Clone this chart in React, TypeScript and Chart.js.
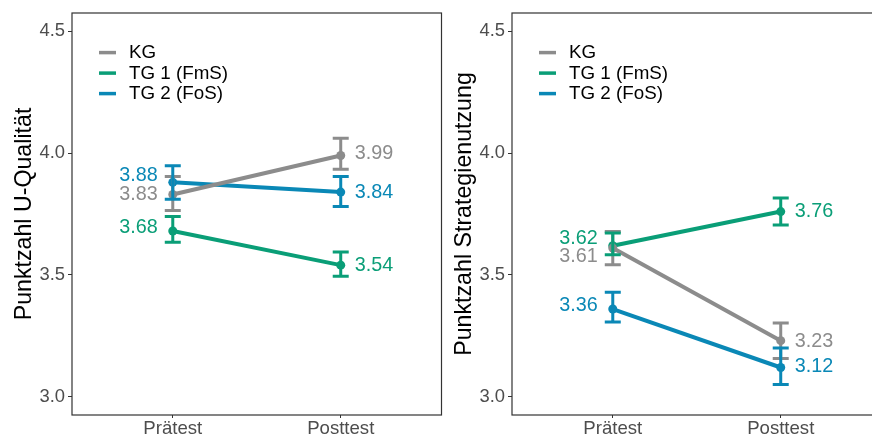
import React, { useEffect, useRef } from "react";
import { Chart, registerables } from "chart.js";
Chart.register(...registerables);

// ---------- data ----------
const categories = ["Prätest", "Posttest"];
const groups = ["KG", "TG 1 (FmS)", "TG 2 (FoS)"];
const yTickValues = [3.0, 3.5, 4.0, 4.5];

// Panel 1: Punktzahl U-Qualität
const uqKG = [3.83, 3.99];
const uqTG1 = [3.68, 3.54];
const uqTG2 = [3.88, 3.84];
const uqKGLow = [3.764, 3.934];
const uqKGHigh = [3.904, 4.061];
const uqTG1Low = [3.634, 3.494];
const uqTG1High = [3.74, 3.594];
const uqTG2Low = [3.811, 3.781];
const uqTG2High = [3.948, 3.904];

// Panel 2: Punktzahl Strategienutzung
const suKG = [3.61, 3.23];
const suTG1 = [3.62, 3.76];
const suTG2 = [3.36, 3.12];
const suKGLow = [3.542, 3.157];
const suKGHigh = [3.678, 3.303];
const suTG1Low = [3.583, 3.705];
const suTG1High = [3.672, 3.816];
const suTG2Low = [3.307, 3.05];
const suTG2High = [3.429, 3.2];

// ---------- style ----------
const groupColors = ["#8C8C8C", "#0A9E77", "#0A88B6"];
const FONT = "'Liberation Sans', Arial, Helvetica, sans-serif";
const Y_MIN = 2.925;
const Y_MAX = 4.575;

type Panel = {
  title: string;
  means: number[][];
  lows: number[][];
  highs: number[][];
  nudges: number[][]; // label pixel nudges (ggrepel-like)
};

const panels: Panel[] = [
  {
    title: "Punktzahl U-Qualität",
    means: [uqKG, uqTG1, uqTG2],
    lows: [uqKGLow, uqTG1Low, uqTG2Low],
    highs: [uqKGHigh, uqTG1High, uqTG2High],
    nudges: [
      [0, -1.5],
      [-3.5, 0],
      [-7, 0],
    ],
  },
  {
    title: "Punktzahl Strategienutzung",
    means: [suKG, suTG1, suTG2],
    lows: [suKGLow, suTG1Low, suTG2Low],
    highs: [suKGHigh, suTG1High, suTG2High],
    nudges: [
      [8, 1],
      [-6.7, 0],
      [-3.5, -1.3],
    ],
  },
];

function makeConfig(panel: Panel): any {
  const decor = {
    id: "decor",
    beforeDatasetsDraw(chart: any) {
      const { ctx, chartArea: a } = chart;
      ctx.save();
      ctx.strokeStyle = "#333333";
      ctx.lineWidth = 1.2;
      ctx.strokeRect(a.left, a.top, a.right - a.left, a.bottom - a.top);
      ctx.restore();
    },
    afterDatasetsDraw(chart: any) {
      const { ctx, chartArea: a } = chart;
      const xs = chart.scales.x;
      const ys = chart.scales.y;
      ctx.save();
      // error bars
      groups.forEach((_, g) => {
        ctx.strokeStyle = groupColors[g];
        ctx.lineWidth = 3;
        ctx.lineCap = "butt";
        categories.forEach((__, c) => {
          const px = xs.getPixelForValue(c + 1);
          const yl = ys.getPixelForValue(panel.lows[g][c]);
          const yh = ys.getPixelForValue(panel.highs[g][c]);
          ctx.beginPath();
          ctx.moveTo(px, yl);
          ctx.lineTo(px, yh);
          ctx.moveTo(px - 8, yl);
          ctx.lineTo(px + 8, yl);
          ctx.moveTo(px - 8, yh);
          ctx.lineTo(px + 8, yh);
          ctx.stroke();
        });
      });
      // value labels
      ctx.font = `19.8px ${FONT}`;
      ctx.textBaseline = "middle";
      groups.forEach((_, g) => {
        ctx.fillStyle = groupColors[g];
        categories.forEach((__, c) => {
          const v = panel.means[g][c];
          const px = xs.getPixelForValue(c + 1);
          const py = ys.getPixelForValue(v) + panel.nudges[g][c];
          if (c === 0) {
            ctx.textAlign = "right";
            ctx.fillText(v.toFixed(2), px - 15, py);
          } else {
            ctx.textAlign = "left";
            ctx.fillText(v.toFixed(2), px + 14, py);
          }
        });
      });
      // legend
      ctx.font = `18.8px ${FONT}`;
      ctx.textAlign = "left";
      ctx.textBaseline = "middle";
      groups.forEach((name, g) => {
        const ry = a.top + 39.6 + g * 20.5;
        ctx.strokeStyle = groupColors[g];
        ctx.lineWidth = 3.5;
        ctx.beginPath();
        ctx.moveTo(a.left + 27, ry);
        ctx.lineTo(a.left + 44, ry);
        ctx.stroke();
        ctx.fillStyle = "#000000";
        ctx.fillText(name, a.left + 57, ry + 0.5);
      });
      ctx.restore();
    },
  };

  return {
    type: "line",
    data: {
      datasets: groups.map((name, g) => ({
        label: name,
        data: categories.map((_, c) => ({ x: c + 1, y: panel.means[g][c] })),
        borderColor: groupColors[g],
        backgroundColor: groupColors[g],
        borderWidth: 4,
        pointRadius: 4.5,
        pointBorderWidth: 0,
        pointBackgroundColor: groupColors[g],
        tension: 0,
        fill: false,
      })),
    },
    options: {
      animation: false,
      responsive: false,
      maintainAspectRatio: false,
      events: [],
      layout: { padding: { left: 0, right: 4, top: 13, bottom: 0 } },
      plugins: {
        legend: { display: false },
        tooltip: { enabled: false },
        title: { display: false },
      },
      scales: {
        x: {
          type: "linear",
          min: 0.4,
          max: 2.6,
          afterBuildTicks: (s: any) => {
            s.ticks = categories.map((_, i) => ({ value: i + 1 }));
          },
          afterFit: (s: any) => {
            s.height = 23;
          },
          ticks: {
            callback: (v: any) => categories[Math.round(v) - 1] ?? "",
            color: "#4D4D4D",
            font: { family: FONT, size: 18.6, lineHeight: 1.0 },
            padding: 1.5,
            maxRotation: 0,
            autoSkip: false,
          },
          grid: {
            display: true,
            drawOnChartArea: false,
            drawTicks: true,
            tickLength: 3,
            color: "#333333",
          },
          border: { display: false },
        },
        y: {
          type: "linear",
          min: Y_MIN,
          max: Y_MAX,
          afterBuildTicks: (s: any) => {
            s.ticks = yTickValues.map((v) => ({ value: v }));
          },
          afterFit: (s: any) => {
            s.width = 72;
          },
          ticks: {
            callback: (v: any) => Number(v).toFixed(1),
            color: "#4D4D4D",
            font: { family: FONT, size: 18.4, lineHeight: 1.0 },
            padding: 3,
          },
          grid: {
            display: true,
            drawOnChartArea: false,
            drawTicks: true,
            tickLength: 4,
            color: "#333333",
          },
          border: { display: false },
          title: {
            display: true,
            text: panel.title,
            color: "#000000",
            font: { family: FONT, size: 23.2 },
            padding: { top: 11, bottom: 0 },
          },
        },
      },
    },
    plugins: [decor],
  };
}

function PanelChart({ panel, left }: { panel: Panel; left: number }) {
  const ref = useRef<HTMLCanvasElement | null>(null);
  useEffect(() => {
    if (!ref.current) return;
    const chart = new Chart(ref.current, makeConfig(panel));
    return () => chart.destroy();
  }, [panel]);
  return (
    <canvas
      ref={ref}
      width={446}
      height={438}
      style={{ position: "absolute", left, top: 0, width: 446, height: 438 }}
    />
  );
}

export default function App() {
  return (
    <div
      style={{
        position: "fixed",
        left: 0,
        top: 0,
        width: 872,
        height: 438,
        overflow: "hidden",
        background: "#ffffff",
      }}
    >
      <PanelChart panel={panels[0]} left={0} />
      <PanelChart panel={panels[1]} left={440} />
    </div>
  );
}
